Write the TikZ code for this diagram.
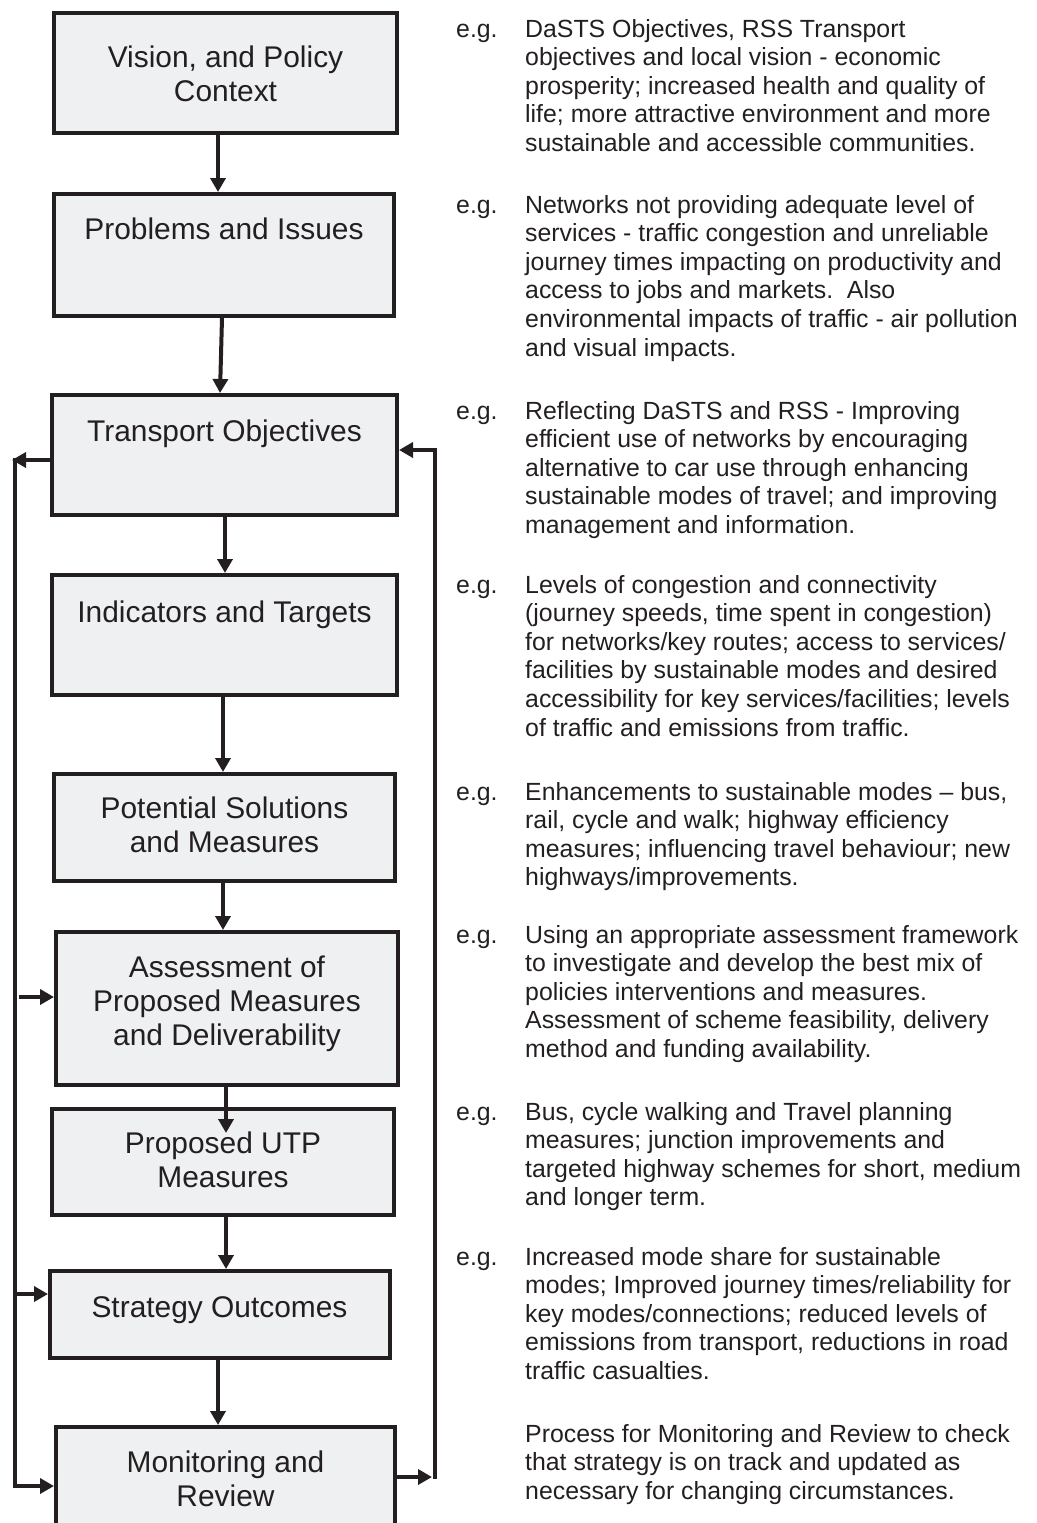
\documentclass[tikz,border=0pt]{standalone}
\usepackage{fontspec}
\setmainfont{Liberation Sans}
\usetikzlibrary{arrows.meta}
\definecolor{ink}{RGB}{35,31,32}
\definecolor{boxfill}{RGB}{239,240,242}
\newcommand\boxtext[1]{\vtop{\hsize=340pt\parindent=0pt\centering\fontsize{29.9pt}{34pt}\selectfont #1\par}}
\newcommand\notetext[1]{\vtop{\hsize=520pt\parindent=0pt\raggedright\fontsize{24.85pt}{28.6pt}\selectfont #1\par}}
\begin{document}
\begin{tikzpicture}[x=1pt,y=-1pt,
  stage/.style={draw=ink, fill=boxfill, line width=4pt, inner sep=0pt, rectangle},
  boxlabel/.style={inner sep=0pt, anchor=base, text=ink},
  notelabel/.style={inner sep=0pt, anchor=base west, text=ink},
  eglabel/.style={inner sep=0pt, anchor=base west, text=ink, font=\fontsize{24.85pt}{28.6pt}\selectfont},
  flow/.style={draw=ink, line width=4pt, line join=miter, -{Triangle[length=14pt,width=15pt]}}
]
\useasboundingbox (0,0) rectangle (1036,1523);
\clip (0,0) rectangle (1036,1523);

% boxes
\node[stage, minimum width=343pt, minimum height=120pt] (b1) at (225.5,73) {};
\node[stage, minimum width=340pt, minimum height=122pt] (b2) at (224,255) {};
\node[stage, minimum width=345pt, minimum height=120pt] (b3) at (224.5,455) {};
\node[stage, minimum width=345pt, minimum height=120pt] (b4) at (224.5,635) {};
\node[stage, minimum width=341pt, minimum height=107pt] (b5) at (224.5,827.5) {};
\node[stage, minimum width=342pt, minimum height=153pt] (b6) at (227,1008.5) {};
\node[stage, minimum width=342pt, minimum height=106pt] (b7) at (223,1162) {};
\node[stage, minimum width=340pt, minimum height=87pt] (b8) at (220,1314.5) {};
\node[stage, minimum width=339pt, minimum height=133pt] (b9) at (225.5,1493.5) {};

% box texts
\node[boxlabel] (t1) at (225.5,67) {\boxtext{Vision, and Policy\\Context}};
\node[boxlabel] (t2) at (224,239) {\boxtext{Problems and Issues}};
\node[boxlabel] (t3) at (224.5,441) {\boxtext{Transport Objectives}};
\node[boxlabel] (t4) at (224.5,622) {\boxtext{Indicators and Targets}};
\node[boxlabel] (t5) at (224.5,818) {\boxtext{Potential Solutions\\and Measures}};
\node[boxlabel] (t6) at (227,977) {\boxtext{Assessment of\\Proposed Measures\\and Deliverability}};
\node[boxlabel] (t7) at (223,1153) {\boxtext{Proposed UTP\\Measures}};
\node[boxlabel] (t8) at (219.5,1317) {\boxtext{Strategy Outcomes}};
\node[boxlabel] (t9) at (225.5,1472) {\boxtext{Monitoring and\\Review}};

% downward connectors
\coordinate (d1) at (218,0);
\coordinate (d3) at (225,0);
\coordinate (d4) at (223,0);
\coordinate (d6) at (226,0);
\draw[flow] (d1 |- b1.south) -- (d1 |- b2.north);
\draw[flow] ([xshift=-2pt]b2.south) -- ([xshift=-4.5pt]b3.north);
\draw[flow] (d3 |- b3.south) -- (d3 |- b4.north);
\draw[flow] (d4 |- b4.south) -- (d4 |- b5.north);
\draw[flow] (d4 |- b5.south) -- (d4 |- b6.north);
\path (d6 |- b7.north) ++(0,26) coordinate (d6e);
\draw[flow] (d6 |- b6.south) -- (d6e);
\draw[flow] (d6 |- b7.south) -- (d6 |- b8.north);
\draw[flow] (d1 |- b8.south) -- (d1 |- b9.north);

% feedback loops
\coordinate (L0) at (12,460);
\coordinate (Ltop) at (14.5,458);
\coordinate (Lbot) at (14.5,1486);
\coordinate (J6) at (19,997);
\coordinate (J8) at (14.5,1294);
\coordinate (R0) at (432,1477);
\coordinate (Rbot) at (434.5,1479);
\coordinate (Rtop) at (434.5,450);
\draw[flow] (L0 -| b3.west) -- (L0);
\draw[flow] (Ltop) -- (Lbot) -- (Lbot -| b9.west);
\draw[flow] (J6) -- (J6 -| b6.west);
\draw[flow] (J8) -- (J8 -| b8.west);
\draw[flow] (R0 -| b9.east) -- (R0);
\draw[flow] (Rbot) -- (Rtop) -- (Rtop -| b3.east);

% notes
\node[eglabel] (e1) at (456,37) {e.g.};
\node[notelabel] (n1) at (525,37) {\notetext{DaSTS Objectives, RSS Transport\\objectives and local vision - economic\\prosperity; increased health and quality of\\life; more attractive environment and more\\sustainable and accessible communities.}};
\node[eglabel] (e2) at (456,213) {e.g.};
\node[notelabel] (n2) at (525,213) {\notetext{Networks not providing adequate level of\\services - traffic congestion and unreliable\\journey times impacting on productivity and\\access to jobs and markets.\ \ Also\\environmental impacts of traffic - air pollution\\and visual impacts.}};
\node[eglabel] (e3) at (456,419) {e.g.};
\node[notelabel] (n3) at (525,419) {\notetext{Reflecting DaSTS and RSS - Improving\\efficient use of networks by encouraging\\alternative to car use through enhancing\\sustainable modes of travel; and improving\\management and information.}};
\node[eglabel] (e4) at (456,593) {e.g.};
\node[notelabel] (n4) at (525,593) {\notetext{Levels of congestion and connectivity\\(journey speeds, time spent in congestion)\\for networks/key routes; access to services/\\facilities by sustainable modes and desired\\accessibility for key services/facilities; levels\\of traffic and emissions from traffic.}};
\node[eglabel] (e5) at (456,800) {e.g.};
\node[notelabel] (n5) at (525,800) {\notetext{Enhancements to sustainable modes – bus,\\rail, cycle and walk; highway efficiency\\measures; influencing travel behaviour; new\\highways/improvements.}};
\node[eglabel] (e6) at (456,943) {e.g.};
\node[notelabel] (n6) at (525,943) {\notetext{Using an appropriate assessment framework\\to investigate and develop the best mix of\\policies interventions and measures.\\Assessment of scheme feasibility, delivery\\method and funding availability.}};
\node[eglabel] (e7) at (456,1120) {e.g.};
\node[notelabel] (n7) at (525,1120) {\notetext{Bus, cycle walking and Travel planning\\measures; junction improvements and\\targeted highway schemes for short, medium\\and longer term.}};
\node[eglabel] (e8) at (456,1265) {e.g.};
\node[notelabel] (n8) at (525,1265) {\notetext{Increased mode share for sustainable\\modes; Improved journey times/reliability for\\key modes/connections; reduced levels of\\emissions from transport, reductions in road\\traffic casualties.}};
\node[notelabel] (n9) at (525,1442) {\notetext{Process for Monitoring and Review to check\\that strategy is on track and updated as\\necessary for changing circumstances.}};
\end{tikzpicture}
\end{document}
